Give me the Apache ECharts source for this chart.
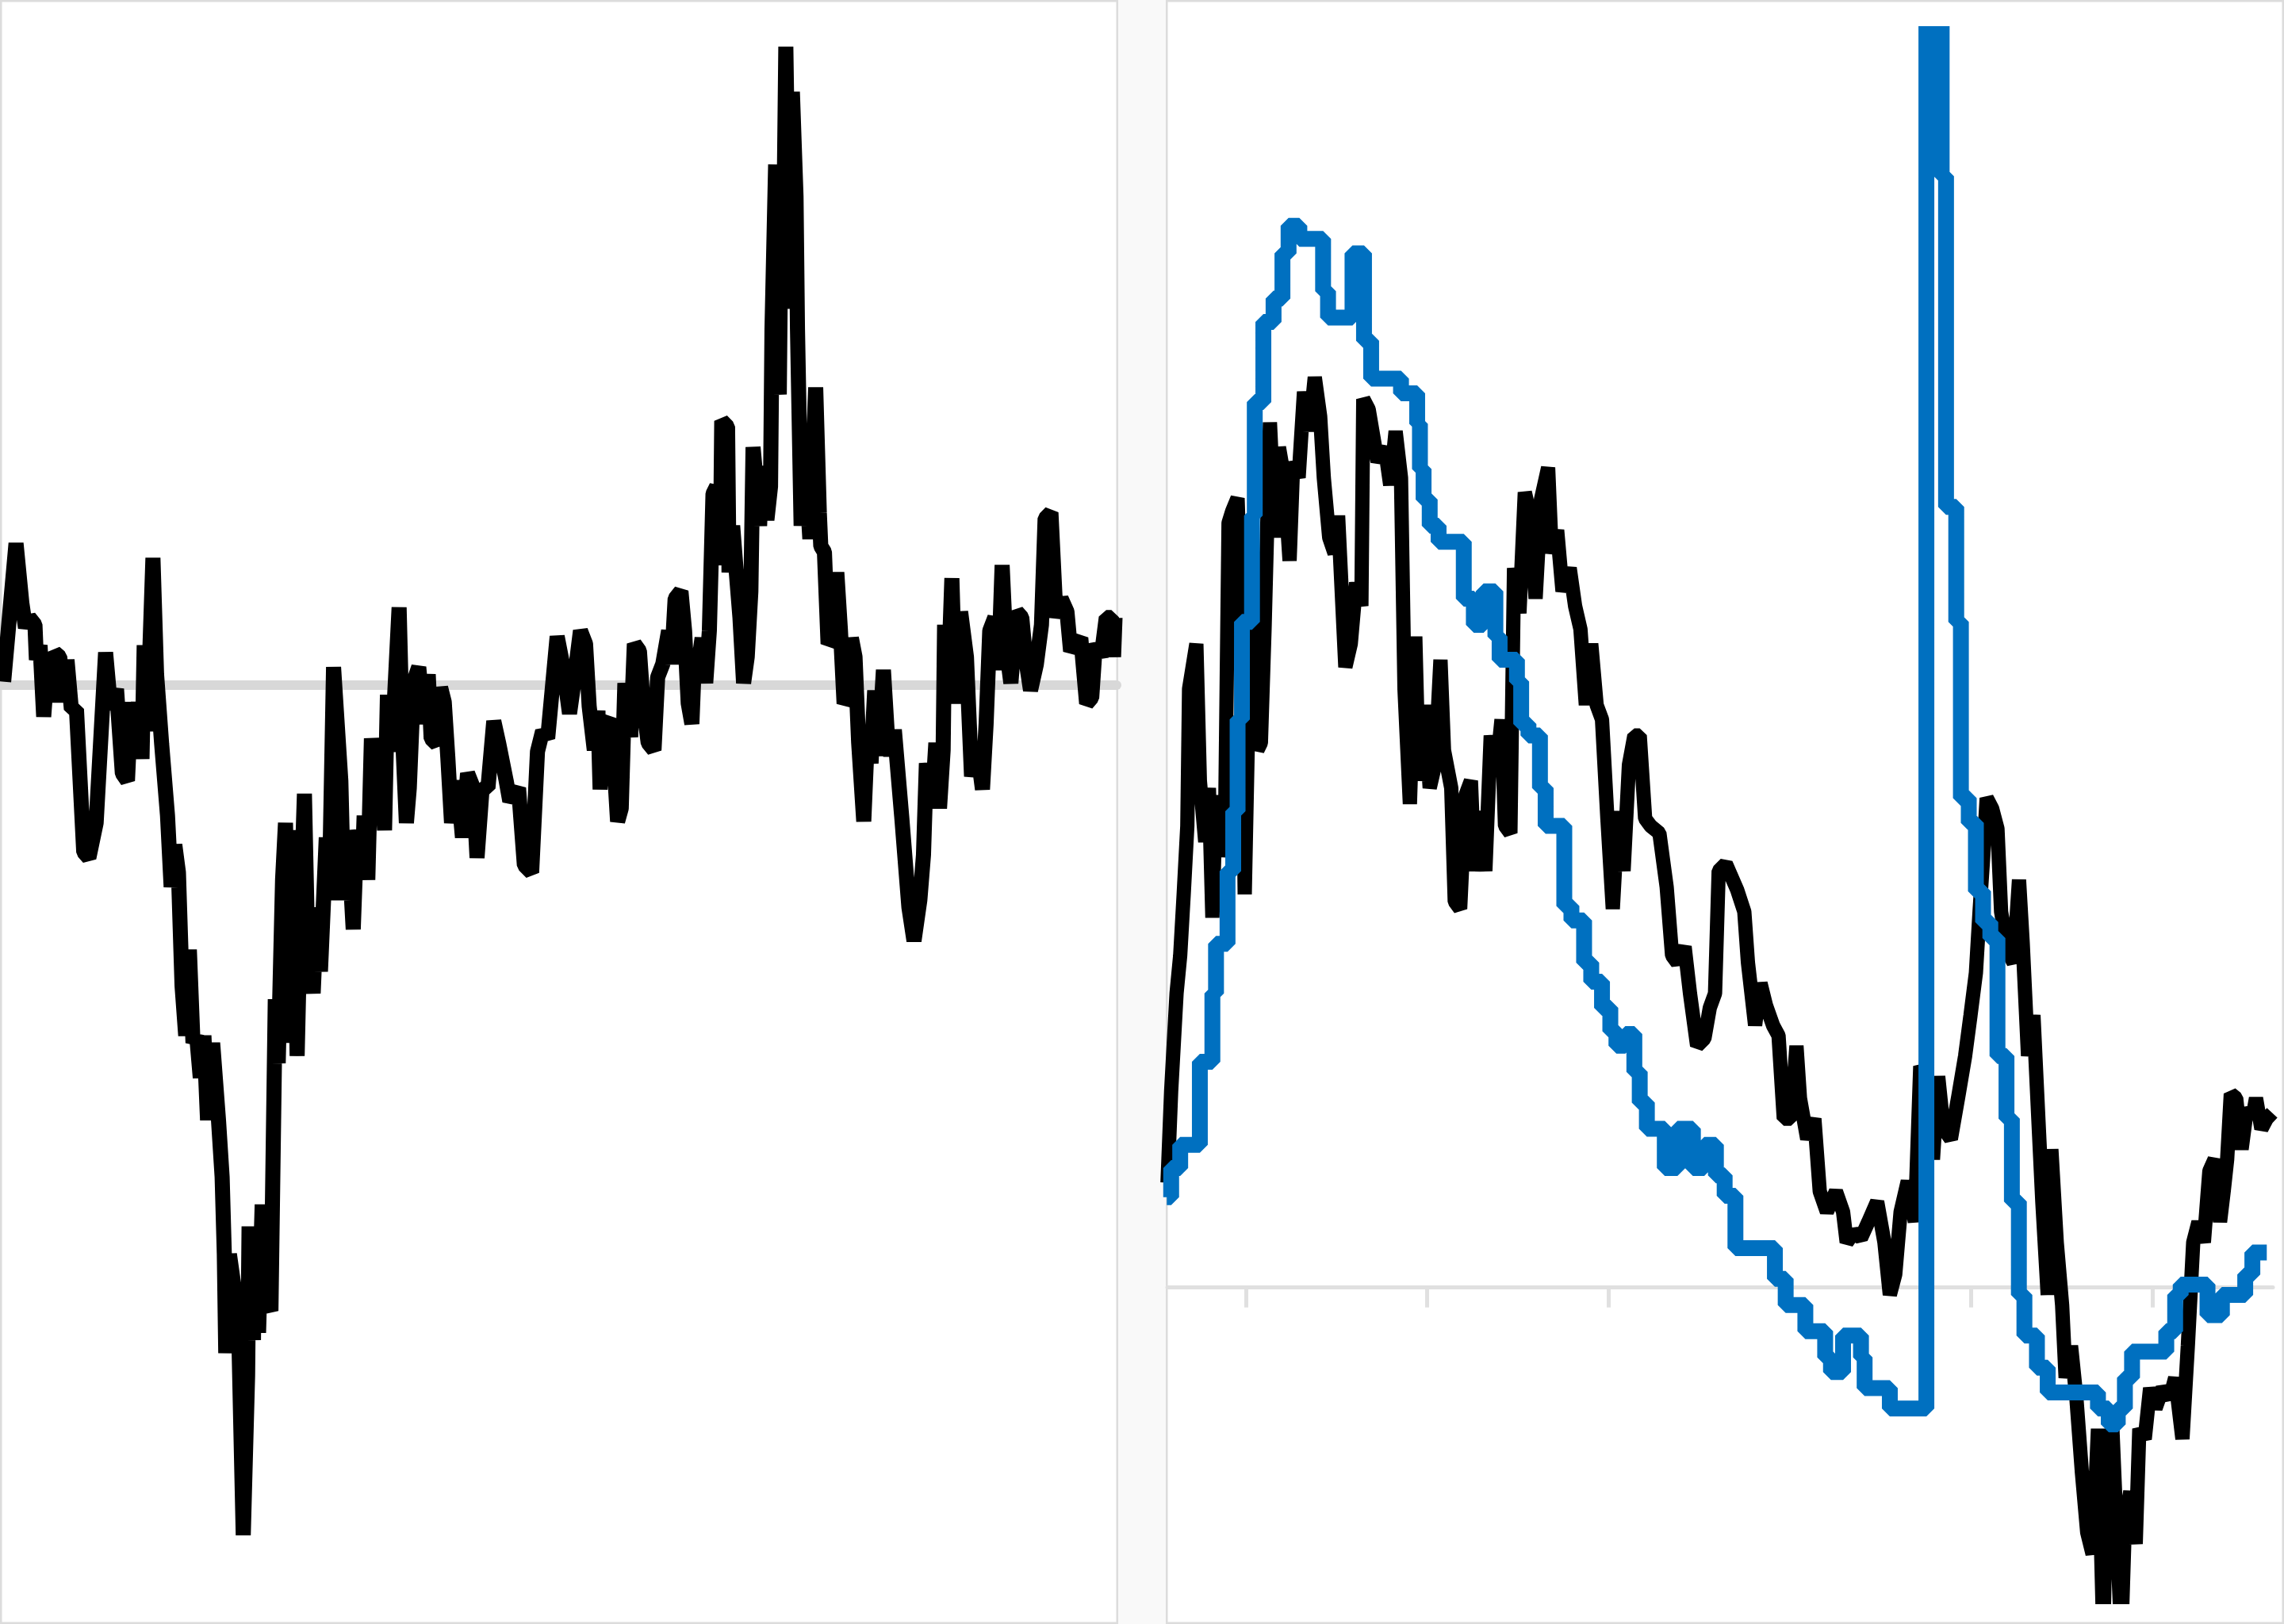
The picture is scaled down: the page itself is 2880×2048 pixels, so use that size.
<!DOCTYPE html>
<html><head><meta charset="utf-8">
<script src="https://cdn.jsdelivr.net/npm/echarts@6/dist/echarts.min.js"></script>
<style>html,body{margin:0;padding:0;background:#f9f9f9;}#c{width:2880px;height:2048px;}</style>
</head><body><div id="c"></div>
<script>
// Left panel: single black series, [period index, % deviation from baseline]
const leftSeries = [[2.5,0.2],[11,9.7],[15,5.6],[17.5,3.9],[20,4.6],[24,4.1],[25,1.7],[27.5,2.7],[30,-2.2],[32.5,1.2],[35,-1.2],[37.5,2.2],[41,1.9],[44,-1.2],[46,1.7],[49,-1.7],[52.5,-1.7],[55,-6.6],[57.5,-11.5],[61,-11.9],[66,-9.5],[72.5,2.2],[76,-1.7],[80,-0.3],[84,-6.1],[87.5,-6.6],[90,-1.2],[92.5,-5.1],[95,-1.2],[97.5,-5.1],[99,2.7],[101,-3.2],[105,8.7],[107.5,0.7],[111,-4.1],[115,-9.0],[117.5,-13.9],[120,-11.0],[122.5,-12.9],[125,-20.7],[127.5,-24.1],[130,-18.2],[132.5,-24.6],[135,-24.1],[137.5,-27.0],[140,-24.1],[142.5,-29.9],[146,-24.6],[150,-29.9],[152.5,-33.8],[154,-39.1],[155,-45.9],[157.5,-39.1],[161,-41.6],[164,-45.0],[167,-58.4],[170,-47.4],[171,-37.2],[174,-45.0],[175,-37.2],[177.5,-44.5],[180,-35.7],[184,-42.6],[186,-43.0],[189,-21.6],[191,-26.0],[194,-13.4],[196,-9.5],[199,-24.6],[201,-10.0],[204,-25.5],[206,-16.8],[209,-7.5],[211,-16.8],[215,-21.2],[217.5,-15.3],[220,-19.7],[224,-10.5],[226,-14.8],[229,1.2],[234,-6.6],[236,-14.8],[239,-10.5],[242.5,-16.8],[245,-10.0],[249,-11.9],[250,-9.0],[252.5,-13.4],[255,-3.7],[259,-7.1],[261,-4.1],[264,-10.0],[266,-0.7],[269,-4.6],[274,5.3],[276,-2.7],[279,-9.5],[281,-7.1],[284,0.2],[287.5,1.2],[291,-2.7],[294,0.7],[296,-3.7],[300,-4.1],[302.5,-0.2],[305,-1.2],[307.5,-5.1],[310,-9.5],[314,-6.6],[317.5,-10.5],[321,-6.1],[325,-7.1],[327.5,-11.9],[331,-7.1],[335,-7.1],[339,-2.5],[342.5,-4.1],[347.5,-6.6],[350,-8.0],[356,-7.1],[360,-12.4],[365,-12.9],[369,-4.6],[372.5,-3.2],[376,-3.7],[382.5,3.3],[387,1.0],[391,-2.0],[394.5,0.5],[398.5,3.7],[402,2.8],[404.5,-1.5],[408,-4.5],[410.5,-1.8],[412,-7.2],[414.5,-2.7],[418,-2.4],[420.5,-3.6],[424,-9.4],[426.5,-8.5],[429,0.1],[433,-3.6],[435.5,2.8],[439,2.3],[441.5,-1.3],[445,-4.0],[449,-4.5],[451.5,0.5],[455,1.4],[459,3.7],[461,1.4],[463.5,5.9],[467.5,6.4],[470,3.7],[472.5,-1.3],[475,-2.7],[477,2.3],[479.5,1.4],[482,3.2],[484.5,0.1],[487,3.7],[489.5,13.1],[492,13.6],[494.5,8.2],[495.5,18.1],[499.5,17.7],[500.5,7.7],[503,10.9],[505.5,7.7],[508,4.6],[510.5,0.1],[513,1.9],[515.5,6.4],[517,16.3],[519,14.1],[521.5,10.9],[523,15.0],[526.5,11.3],[529,13.6],[530,24.4],[532.5,35.7],[534,25.3],[535,19.9],[536.5,35.7],[537.5,25.8],[539.5,43.8],[542,27.1],[544,40.7],[546.5,33.5],[547.5,24.4],[550,10.9],[552.5,15.9],[556,10.0],[560,20.4],[562.5,11.8],[563.5,9.5],[566,9.1],[568.5,2.8],[572,3.2],[574.5,7.7],[577,3.7],[579.5,-1.3],[582,-0.9],[584.5,3.2],[587,1.9],[589.5,-4.0],[593,-9.4],[595.5,-3.6],[598,-5.4],[600.5,-0.4],[603,-4.9],[606.5,1.0],[609,-3.1],[611.5,-4.9],[614,-3.1],[619,-9.0],[624,-15.3],[627.5,-17.6],[631.5,-14.8],[634,-11.7],[636,-5.4],[640,-8.1],[642.5,-4.0],[645,-8.5],[647.5,-4.5],[648.5,4.1],[651,0.1],[653.5,7.3],[656,-1.3],[659.5,5.0],[663.5,1.9],[667,-6.3],[671,-4.5],[674.5,-7.2],[677,-2.7],[679.5,3.7],[683,4.6],[685.5,1.0],[688,8.2],[690.5,2.8],[694,0.1],[698,5.0],[701.5,4.6],[704,1.9],[707.5,-0.4],[711.5,1.4],[715,4.1],[717.5,11.4],[721.5,11.8],[725,4.6],[728.5,5.9],[732.5,5.0],[735,2.3],[738.5,2.8],[742,3.2],[746,-1.3],[749.5,-0.9],[752,2.8],[756,1.9],[759.5,4.6],[763,4.6],[764.5,1.9],[765.5,4.6]];

// Right panel: black (noisy) series
const rightBlack = [[0.5,7.2],[3,13.5],[6.7,20.2],[9.2,22.8],[11.6,27.0],[14.1,31.7],[15.3,41.1],[20.3,44.2],[22.7,34.8],[26.4,30.6],[28.9,34.3],[31.3,25.4],[33.8,33.8],[36.3,29.6],[40,31.7],[42.4,52.5],[44.9,53.3],[48.6,54.2],[51.1,46.3],[53.5,27.0],[57.2,45.2],[59.7,46.3],[62.2,36.9],[64.6,37.4],[67.1,45.2],[70.8,59.4],[74.5,51.5],[77,57.7],[80.6,55.6],[84.3,49.9],[86.8,56.7],[90.5,55.6],[94.2,61.5],[97.9,58.8],[101.6,62.5],[105.3,59.8],[107.8,55.6],[111.5,51.5],[115.2,50.4],[117.6,53.0],[122.6,42.6],[126.3,44.2],[130,48.4],[133.6,46.8],[134.9,61.0],[138.6,60.3],[144.7,56.7],[149.7,57.7],[153.4,55.1],[157.1,58.8],[160.8,55.6],[163.2,41.1],[166.9,33.2],[170.6,44.7],[173.1,34.8],[176.8,40.0],[180.5,34.3],[184.2,35.9],[187.9,43.1],[190.3,36.9],[195.3,34.3],[197.7,26.5],[201.4,26.0],[205.1,33.8],[208.8,34.8],[211.3,28.6],[215,32.7],[218.7,28.6],[222.4,37.9],[226.1,35.3],[229.8,39.0],[232.2,31.7],[235.9,31.2],[238.4,49.4],[242.1,46.3],[245.8,54.6],[249.5,53.0],[253.2,47.3],[256.9,54.1],[261.8,56.3],[264.3,50.4],[268,52.0],[271.7,47.8],[276.6,49.4],[280.3,46.8],[284,45.2],[287.7,40.0],[291.4,44.2],[295.1,40.0],[298.8,39.0],[302.5,32.2],[306.2,26.0],[309.9,32.7],[313.6,28.6],[317.3,35.9],[321,37.9],[324.7,37.9],[328.4,32.2],[332.1,31.7],[338.2,31.2],[343.2,27.5],[346.9,22.8],[350.6,22.3],[355.5,23.4],[359.2,20.2],[364.1,16.6],[369.1,17.1],[372.8,19.2],[376.4,20.2],[378.9,28.6],[383.8,29.1],[391.6,27.3],[396.5,25.8],[399,22.3],[403.9,18.0],[407.6,20.9],[411.3,19.4],[416.2,18.0],[420,17.3],[423.6,11.6],[428.6,11.6],[432.3,16.6],[434.7,13.0],[439.7,10.2],[444.6,11.6],[448.3,6.6],[453.2,5.2],[459.4,6.6],[464.3,5.2],[466.8,3.1],[471.7,3.8],[476.6,3.4],[481.6,4.5],[487.7,5.9],[492.7,3.1],[496.4,-0.5],[500.1,0.9],[503.8,5.2],[508.7,7.3],[513.6,4.5],[517.3,15.2],[521,14.5],[526,8.8],[529.6,14.5],[533.3,10.9],[538.3,10.2],[543.2,13.0],[548.1,15.9],[551.8,18.7],[555.5,21.6],[558,25.8],[560.4,29.4],[562.9,33.6],[566.6,32.9],[570.3,31.5],[572.8,25.8],[575.2,24.4],[577.7,23.0],[581.4,22.3],[585.1,28.0],[587.6,23.7],[591.3,15.9],[595,18.7],[598.7,10.9],[601.1,5.9],[604.8,-0.5],[607.3,9.5],[611,3.1],[614.7,-1.2],[617.1,-6.2],[620.8,-4.0],[624.5,-7.6],[628.2,-12.6],[631.9,-16.8],[635.6,-18.3],[639.3,-9.7],[643,-24.0],[645.5,-11.2],[649.2,-9.7],[651.6,-15.4],[655.3,-24.0],[657.8,-16.1],[661.5,-14.0],[665.2,-17.6],[667.7,-9.7],[671.4,-10.4],[675.1,-6.9],[678.8,-8.3],[683.7,-6.9],[688.6,-7.6],[692.3,-6.2],[697.3,-10.4],[701,-4.0],[704.7,3.1],[708.3,4.5],[712,3.1],[715.8,8.0],[719.4,8.8],[723.1,4.5],[725.6,6.6],[728,8.8],[730.5,13.3],[734.2,13.0],[737.9,9.5],[741.6,12.3],[745.3,11.6],[747.8,13.0],[751.5,10.9],[755.2,11.6],[758.9,12.0]];

// Right panel: blue step series (level start, level)
const rightBlue = [[0,6.2],[3,8.2],[9.2,9.8],[22.7,15.5],[31.3,20.2],[33.8,23.6],[41.7,28.6],[45.6,32.7],[48.6,39.0],[51.6,45.7],[58.5,53.0],[60.4,60.8],[66.3,66.3],[73.3,67.9],[79.4,71.0],[83.6,72.9],[91,72.0],[107.3,68.4],[110.7,66.6],[127.5,71.0],[135.4,65.0],[140.3,62.4],[160.8,61.4],[171.9,59.3],[173.8,56.2],[176.3,54.1],[180.5,52.3],[186.6,51.2],[203.9,47.3],[210.8,45.5],[217.5,47.8],[225.6,44.7],[228.5,43.1],[240.4,41.6],[243.3,38.7],[248.3,37.9],[256.2,34.3],[260.1,31.7],[272.9,26.2],[277.8,25.2],[286.5,22.3],[291.4,21.0],[298.8,19.2],[304.5,17.6],[308.7,16.6],[314.8,17.4],[321,14.8],[324.7,12.7],[329.6,10.9],[341.9,8.2],[350.6,10.9],[361.2,8.2],[369,9.8],[377,7.7],[383,6.3],[390.4,2.7],[417.5,0.6],[424.9,-1.2],[438.4,-3.0],[452,-4.8],[456,-5.8],[464.3,-3.3],[476.6,-4.8],[479.1,-6.9],[496.4,-8.3],[521.5,100],[532,76.3],[535,53.6],[542,45.7],[545.2,33.6],[550.6,31.9],[555.5,27.2],[560.4,25.1],[565.4,24.0],[570.3,15.9],[576.5,11.6],[580.2,5.9],[585,-0.5],[588.8,-3.3],[597.4,-5.5],[604.8,-7.2],[639.3,-8.3],[646.7,-9.4],[652.9,-8.3],[657.8,-6.2],[662.7,-4.4],[686.2,-3.0],[692.3,-0.5],[696.1,0.2],[714.5,-1.9],[724.4,-0.5],[740.4,0.9],[745.3,2.4],[755.2,2.4]];

// Right panel x-axis tick positions (period index)
const rightTicks = [54.3, 178.8, 303.3, 427.8, 552.3, 676.8];

const chart = echarts.init(document.getElementById('c'), null, {renderer: 'canvas'});
chart.setOption({
  animation: false,
  backgroundColor: 'transparent',
  graphic: [
    {type: 'rect', z: -10, shape: {x: 1.25, y: 1.25, width: 1407.5, height: 2045.5},
     style: {fill: '#ffffff', stroke: '#dcdcdc', lineWidth: 2.5}},
    {type: 'rect', z: -10, shape: {x: 1471.25, y: 1.25, width: 1407.5, height: 2045.5},
     style: {fill: '#ffffff', stroke: '#dcdcdc', lineWidth: 2.5}}
  ],
  grid: [
    {left: 2, top: 0, width: 1406, height: 2048, containLabel: false},
    {left: 1472, top: 43, width: 1394, height: 1971, containLabel: false}
  ],
  xAxis: [
    {type: 'value', gridIndex: 0, min: 1.09, max: 766.6,
     axisLine: {show: true, onZero: true, lineStyle: {color: '#d8d8d8', width: 12}},
     axisTick: {show: false}, axisLabel: {show: false}, splitLine: {show: false}},
    {type: 'value', gridIndex: 1, min: 0.4, max: 759.4,
     axisLine: {show: true, onZero: true, lineStyle: {color: '#e0e0e0', width: 5}},
     axisTick: {show: true, customValues: rightTicks, length: 25, lineStyle: {color: '#e0e0e0', width: 5}},
     axisLabel: {show: false}, splitLine: {show: false}}
  ],
  yAxis: [
    {type: 'value', gridIndex: 0, min: -64.5, max: 47, show: false, splitLine: {show: false}},
    {type: 'value', gridIndex: 1, min: -21.25, max: 86.06, show: false, splitLine: {show: false}}
  ],
  series: [
    {type: 'line', xAxisIndex: 0, yAxisIndex: 0, data: leftSeries, showSymbol: false, symbol: 'none',
     lineStyle: {color: '#000000', width: 19}, z: 3},
    {type: 'line', xAxisIndex: 1, yAxisIndex: 1, data: rightBlack, showSymbol: false, symbol: 'none',
     lineStyle: {color: '#000000', width: 18}, z: 3},
    {type: 'line', xAxisIndex: 1, yAxisIndex: 1, data: rightBlue, step: 'end', showSymbol: false, symbol: 'none',
     lineStyle: {color: '#0070c0', width: 20}, z: 4}
  ]
});
</script>
</body></html>
